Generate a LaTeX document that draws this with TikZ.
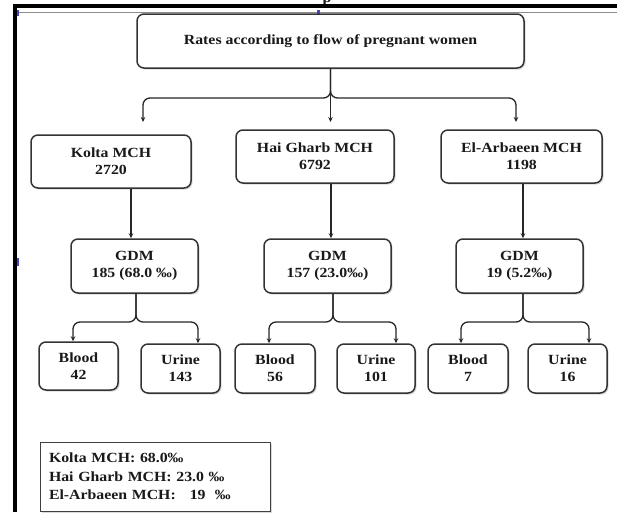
\documentclass[tikz,border=0pt]{standalone}
\usepackage{fontspec}
\setmainfont{Liberation Serif}[FakeStretch=1.13]
\usetikzlibrary{arrows.meta,shadows}
\begin{document}
\begin{tikzpicture}[x=1pt,y=-1pt,
  txt/.style={font=\fontsize{14}{17}\selectfont\bfseries, text=black!90},
  box/.style={txt, draw=black!80, line width=1.5pt, rounded corners=7pt, fill=white,
    align=center, inner sep=0pt,
    drop shadow={shadow xshift=1.5pt, shadow yshift=-1.5pt, opacity=0.3}},
  conn/.style={line width=1.3pt, draw=black!85, rounded corners=7pt},
  arr/.style={conn, -{Stealth[length=5pt,width=4.5pt]}},
  legendbox/.style={txt, font=\fontsize{14}{18.5}\selectfont\bfseries, draw=black!75, line width=1pt,
    fill=white, align=left, text width=212pt, inner xsep=9pt, inner ysep=0pt,
    minimum height=69pt,
    drop shadow={shadow xshift=1.5pt, shadow yshift=-1.5pt, opacity=0.3}},
  handlemark/.style={fill=blue!45!gray}]
\useasboundingbox (0,0) rectangle (617,512);
\fill[white] (0,0) rectangle (617,512);

% page frame remnants
\node[txt, anchor=base, inner sep=0pt] (pfrag) at (327,2) {p};
\draw[line width=1pt, black!45] (17,12.5) -- (617,12.5);
\fill[black] (13,4) rectangle (617,8);
\fill[black] (13,4) rectangle (17,512);
\fill[handlemark] (316.5,10) rectangle (320,15);
\fill[handlemark] (17,10) rectangle (19,16);
\fill[handlemark] (17,258) rectangle (19,266);

% top
\node[box, minimum width=387pt, minimum height=54pt] (top) at (330.5,41) {Rates according to flow of pregnant women};

% MCH boxes
\node[box, minimum width=160pt, minimum height=53pt] (kolta) at (111,161.5) {Kolta MCH\\2720};
\node[box, minimum width=158pt, minimum height=53pt] (hai) at (315,156.5) {Hai Gharb MCH\\6792};
\node[box, minimum width=161pt, minimum height=53pt] (el) at (521.5,156.5) {El-Arbaeen MCH\\1198};

% GDM boxes
\node[box, minimum width=127pt, minimum height=54pt] (gdm1) at (134.5,266) {GDM\\185 (68.0 ‰)};
\node[box, minimum width=127pt, minimum height=54pt] (gdm2) at (327.5,266) {GDM\\157 (23.0‰)};
\node[box, minimum width=127pt, minimum height=54pt] (gdm3) at (519.5,266) {GDM\\19 (5.2‰)};

% bottom boxes
\node[box, minimum width=79pt, minimum height=48pt] (blood1) at (78.5,366) {Blood\\42};
\node[box, minimum width=79pt, minimum height=49pt] (urine1) at (180.5,368.5) {Urine\\143};
\node[box, minimum width=80pt, minimum height=49pt] (blood2) at (275,368.5) {Blood\\56};
\node[box, minimum width=78pt, minimum height=49pt] (urine2) at (376,368.5) {Urine\\101};
\node[box, minimum width=80pt, minimum height=49pt] (blood3) at (468,368.5) {Blood\\7};
\node[box, minimum width=79pt, minimum height=49pt] (urine3) at (567.5,368.5) {Urine\\16};

% legend
\node[legendbox] (leg) at (155,476.5) {Kolta MCH: 68.0‰\\Hai Gharb MCH: 23.0 ‰\\El-Arbaeen MCH:\ \ \ 19\ \ ‰};

% top connectors
\coordinate (h0) at (330.5,98);
\coordinate (t1) at (143,122);
\coordinate (t2) at (330.5,122);
\coordinate (t3) at (516,122);
\draw[arr] (top.south) -- (h0) -| (t1);
\draw[arr] (top.south) -- (h0) -| (t3);
\draw[arr] (top.south) -- (t2);

% MCH -> GDM
\coordinate (c1) at (131,0);
\coordinate (c2) at (331,0);
\coordinate (c3) at (523,0);
\draw[arr] (kolta.south -| c1) -- (gdm1.north -| c1);
\draw[arr] (hai.south -| c2) -- (gdm2.north -| c2);
\draw[arr] (el.south -| c3) -- (gdm3.north -| c3);

% GDM -> Blood / Urine
\coordinate (g1) at (136,322);
\coordinate (g2) at (333,322);
\coordinate (g3) at (523,322);
\coordinate (b1) at (73,0);  \coordinate (u1) at (198,0);
\coordinate (b2) at (269,0); \coordinate (u2) at (396,0);
\coordinate (b3) at (461,0); \coordinate (u3) at (589,0);
\draw[arr] (gdm1.south -| g1) -- (g1) -| (blood1.north -| b1);
\draw[arr] (gdm1.south -| g1) -- (g1) -| (urine1.north -| u1);
\draw[arr] (gdm2.south -| g2) -- (g2) -| (blood2.north -| b2);
\draw[arr] (gdm2.south -| g2) -- (g2) -| (urine2.north -| u2);
\draw[arr] (gdm3.south -| g3) -- (g3) -| (blood3.north -| b3);
\draw[arr] (gdm3.south -| g3) -- (g3) -| (urine3.north -| u3);
\end{tikzpicture}
\end{document}
